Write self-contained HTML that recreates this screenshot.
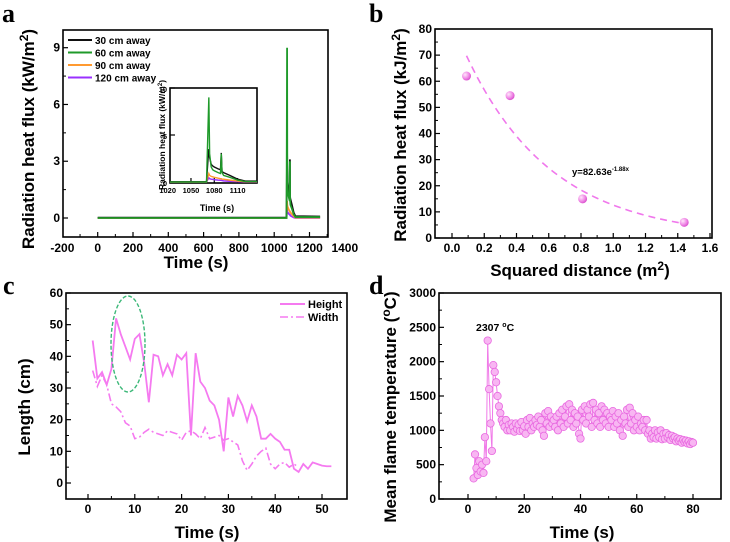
<!DOCTYPE html>
<html><head><meta charset="utf-8">
<style>
body{margin:0;background:#fff;}
svg{display:block;font-family:"Liberation Sans",Arial,sans-serif;font-weight:bold;}
.letter{font-family:"Liberation Serif",serif;font-size:26px;font-weight:bold;}
</style></head>
<body>
<svg id="fig" width="730" height="542" viewBox="0 0 730 542">
<defs>
<radialGradient id="ball" cx="0.35" cy="0.35" r="0.7">
<stop offset="0" stop-color="#ffe6fb"/><stop offset="0.6" stop-color="#f08ae6"/><stop offset="1" stop-color="#d84ccc"/>
</radialGradient>
<clipPath id="clipInset"><rect x="170" y="88" width="87" height="95"/></clipPath>
</defs>
</svg>
<script>
// ---- panel a data ----
const aTimes=[0,1070,1072,1073,1074,1076,1078,1080,1085,1088,1089,1090,1092,1100,1110,1120,1260];
const aBlack=[0.02,0.02,2.5,3.5,2.6,1.9,1.7,1.6,1.4,1.3,3.1,1.1,1.0,0.7,0.3,0.1,0.08];
const aGreen=[0,0,6,9,3,1.6,1.3,1.2,1.0,0.9,3.0,1.0,0.7,0.5,0.2,0.05,0.05];
const aOrange=[0,0,0.6,0.9,0.7,0.6,0.55,0.5,0.4,0.35,0.35,0.3,0.3,0.2,0.1,0.02,0.02];
const aPurple=[0,0,0.3,0.45,0.35,0.3,0.28,0.25,0.2,0.18,0.18,0.15,0.12,0.08,0.03,0,0];
const aXTicks=[-200,0,200,400,600,800,1000,1200,1400];
const aYTicks=[0,3,6,9];
const aLegend=["30 cm away","60 cm away","90 cm away","120 cm away"];
const insetXTicks=[1020,1050,1080,1110];
const insetYTicks=[0,5,10];
// ---- panel b data ----
const bX=[0.09,0.36,0.81,1.44];
const bY=[62,54.5,15,6];
const bFitA=82.63, bFitB=-1.88;
const bXTicks=[0.0,0.2,0.4,0.6,0.8,1.0,1.2,1.4,1.6];
const bYTicks=[0,10,20,30,40,50,60,70,80];
// ---- panel c data ----
const cHeightT=[1,2,3,4,5,6,7,8,9,10,11,12,13,14,15,16,17,18,19,20,21,22,23,24,25,26,27,28,29,30,31,32,33,34,35,36,37,38,39,40,41,42,43,44,45,46,47,48,49,50,51,52];
const cHeight=[45,33,35,31,36,52,47,43,39,45.5,47,38,25.5,40.5,40,34,37.5,34,40.5,39,41,15,41,32,30,26,24.5,20,10,27,21,27.5,24.5,19.5,24.5,21,14,14,15.5,14,13,10.5,10.5,4.5,3.5,6,4.5,6.5,6,5.5,5.3,5.3];
const cWidthT=[1,2,3,4,5,6,7,8,9,10,11,12,13,14,15,16,17,18,19,20,21,22,23,24,25,26,27,28,29,30,31,32,33,34,35,36,37,38,39,40,41,42,43,44,45];
const cWidth=[35.5,30.5,34,31,25,24,22.5,19,18,14,14.5,16,17,16,15.5,15,16.5,16,15.5,13.5,16,16.5,15.5,14,17.5,14,14.5,15,13.5,14,13,12,7,4,6,8.5,10,11,6,4.5,6,6.5,5,6,5];
const cXTicks=[0,10,20,30,40,50];
const cYTicks=[0,10,20,30,40,50,60];
// ---- panel d data ----
const dStart=2, dStep=0.5;
const dTemp=[300,650,450,350,550,400,500,380,900,550,2307,1600,1100,700,1950,1850,1700,1500,1350,1250,1150,1100,1050,1150,1000,1080,1000,1100,1050,980,1100,1020,1080,990,1120,1000,1060,950,1150,1050,1180,1000,1100,1050,1150,1080,1200,1050,1150,1000,920,1250,1100,1280,1050,1200,1100,1150,1050,1200,1000,1250,1100,1300,1050,1200,1350,1100,1380,1150,1300,1050,1250,1100,1200,950,880,1300,1150,1350,1100,1300,1200,1380,1050,1400,1150,1300,1100,1250,1050,1350,1150,1300,1100,1250,1050,1200,1150,1280,1050,1200,1100,1250,1000,1150,920,1200,1100,1300,1050,1330,1100,1250,1000,1150,1050,1200,1000,1100,1050,1150,1000,1150,950,1000,880,950,900,1000,880,970,900,1000,870,950,880,960,900,930,860,920,880,900,840,880,850,870,820,860,830,850,810,840,800,830,820];
const dXTicks=[0,20,40,60,80];
const dYTicks=[0,500,1000,1500,2000,2500,3000];

const NS="http://www.w3.org/2000/svg";
const svg=document.getElementById('fig');
function mk(tag,attrs,parent,text){const e=document.createElementNS(NS,tag);for(const k in attrs)e.setAttribute(k,attrs[k]);if(text!==undefined)e.textContent=text;(parent||svg).appendChild(e);return e;}
function lin(d0,d1,r0,r1){return v=>r0+(v-d0)/(d1-d0)*(r1-r0);}
function pathOf(xs,ys,fx,fy){return xs.map((x,i)=>(i?'L':'M')+fx(x).toFixed(2)+' '+fy(ys[i]).toFixed(2)).join(' ');}

function frame(name,x0,y0,x1,y1,fx,fy,xt,yt,xlabY,fmtX,fmtY,minorX,minorY,fs){
  const g=mk('g',{});
  
  
  const box=mk('rect',{x:x0,y:y0,width:x1-x0,height:y1-y0,fill:'none',stroke:'#000','stroke-width':1.6},g);
  
  
  xt.forEach((v,i)=>{const x=fx(v);
    if(x>=x0-0.5&&x<=x1+0.5)mk('line',{x1:x,x2:x,y1:y1,y2:y1-5,stroke:'#000','stroke-width':1.2},g);
    const t=mk('text',{x:x,y:xlabY,'text-anchor':'middle','font-size':fs||12},g,fmtX(v));
    
    
    if(i<xt.length-1&&minorX){const xm=fx((v+xt[i+1])/2);if(xm>x0&&xm<x1)mk('line',{x1:xm,x2:xm,y1:y1,y2:y1-3,stroke:'#000','stroke-width':1},g);}
  });
  yt.forEach((v,i)=>{const y=fy(v);
    mk('line',{x1:x0,x2:x0+5,y1:y,y2:y,stroke:'#000','stroke-width':1.2},g);
    const t=mk('text',{x:x0-3,y:y+4,'text-anchor':'end','font-size':fs||12},g,fmtY(v));
    
    
    if(i<yt.length-1&&minorY){const ym=fy((v+yt[i+1])/2);mk('line',{x1:x0,x2:x0+3,y1:ym,y2:ym,stroke:'#000','stroke-width':1},g);}
  });
  return g;
}
function ytitle(name,x,y,html){const t=mk('text',{x:x,y:y,'text-anchor':'middle',transform:`rotate(-90 ${x} ${y})`,'font-size':17});t.innerHTML=html;return t;}
function xtitle(name,x,y,html){const t=mk('text',{x:x,y:y,'text-anchor':'middle','font-size':17});t.innerHTML=html;return t;}
function letter(name,x,y,s){const t=mk('text',{x:x,y:y,class:'letter'},svg,s);}

// ================= Panel a =================
letter('panel-a-label',2,22,'a');
const ax=v=>97.7+v*0.1765, ay=lin(0,9,218,47.7);
frame('panel-a',63,30,328,237,ax,ay,aXTicks,aYTicks,252,v=>v,v=>v,true,true);
ytitle('panel-a-y-axis-title',34,139,'Radiation heat flux (kW/m<tspan dy="-6" font-size="12">2</tspan><tspan dy="6">)</tspan>');
xtitle('panel-a-x-axis-title',196,268,'Time (s)');
const aSeries=[[aBlack,'#111'],[aGreen,'#1f9a2a'],[aOrange,'#ff9a30'],[aPurple,'#9a30ff']];
const aNames=['series-30cm','series-60cm','series-90cm','series-120cm'];
[3,2,0,1].forEach(k=>{const s=aSeries[k];
  const p=mk('path',{d:pathOf(aTimes,s[0],ax,ay),fill:'none',stroke:s[1],'stroke-width':1.8});
  
  
});
aLegend.forEach((lab,i)=>{const y=40+i*12.5;
  const g=mk('g',{});
  
  
  mk('line',{x1:68,x2:92,y1:y,y2:y,stroke:aSeries[i][1],'stroke-width':2},g);
  mk('text',{x:95,y:y+4,'font-size':10},g,lab);
});
// inset
const ix=lin(1023,1135,170,257), iy=lin(0,10,182,88);
frame('panel-a-inset',170,88,257,183,ix,iy,insetXTicks,insetYTicks,193,v=>v,v=>v,false,false,7.5);
const ig=mk('g',{'clip-path':'url(#clipInset)'});


[3,2,0,1].forEach(k=>{const s=aSeries[k];
  const p=mk('path',{d:pathOf(aTimes,s[0],ix,iy),fill:'none',stroke:s[1],'stroke-width':1.4},ig);
  
  
});
(function(){const t=mk('text',{x:0,y:0,'text-anchor':'middle','font-size':8.5,transform:'translate(165 135) rotate(-90)'});t.innerHTML='Radiation heat flux (kW/m<tspan dy="-3" font-size="6">2</tspan><tspan dy="3">)</tspan>';
const u=mk('text',{x:217,y:211,'text-anchor':'middle','font-size':9},svg,'Time (s)');})();

// ================= Panel b =================
letter('panel-b-label',369,22,'b');
const bx=lin(0,1.6,452,710), by=lin(0,80,238,29);
frame('panel-b',435,29,712,238,bx,by,bXTicks,bYTicks,252,v=>v.toFixed(1),v=>v,true,true);
ytitle('panel-b-y-axis-title',406,135,'Radiation heat flux (kJ/m<tspan dy="-6" font-size="12">2</tspan><tspan dy="6">)</tspan>');
xtitle('panel-b-x-axis-title',580,276,'Squared distance (m<tspan dy="-6" font-size="12">2</tspan><tspan dy="6">)</tspan>');
(function(){const xs=[],ys=[];for(let i=0;i<=60;i++){const x=bX[0]+(bX[bX.length-1]-bX[0])*i/60;xs.push(x);ys.push(bFitA*Math.exp(bFitB*x));}
const p=mk('path',{d:pathOf(xs,ys,bx,by),fill:'none',stroke:'#f078ec','stroke-width':1.6,'stroke-dasharray':'7 5'});

})();
bX.forEach((x,i)=>{const c=mk('circle',{cx:bx(x),cy:by(bY[i]),r:4.5,fill:'url(#ball)'});
  
  });
(function(){const t=mk('text',{x:572,y:175,'font-size':9.5});t.innerHTML='y=82.63e<tspan dy="-4" font-size="6">-1.88x</tspan>';})();

// ================= Panel c =================
letter('panel-c-label',3,294,'c');
const cx=lin(0,50,88,322), cy=lin(0,60,483,293);
frame('panel-c',66,293,347,499,cx,cy,cXTicks,cYTicks,513,v=>v,v=>v,true,true);
ytitle('panel-c-y-axis-title',30,407,'Length (cm)');
xtitle('panel-c-x-axis-title',207,538,'Time (s)');
(function(){
const h=mk('path',{d:pathOf(cHeightT,cHeight,cx,cy),fill:'none',stroke:'#f57af0','stroke-width':1.8});


const w=mk('path',{d:pathOf(cWidthT,cWidth,cx,cy),fill:'none',stroke:'#f57af0','stroke-width':1.6,'stroke-dasharray':'8 3 2 3'});


const e=mk('ellipse',{cx:128,cy:344,rx:17,ry:48,fill:'none',stroke:'#3cb878','stroke-width':1.4,'stroke-dasharray':'4 2'});


const g1=mk('g',{});
mk('line',{x1:280,x2:305,y1:304,y2:304,stroke:'#f57af0','stroke-width':2},g1);
mk('text',{x:308,y:308,'font-size':11},g1,'Height');
const g2=mk('g',{});
mk('line',{x1:280,x2:305,y1:317,y2:317,stroke:'#f57af0','stroke-width':1.6,'stroke-dasharray':'8 3 2 3'},g2);
mk('text',{x:308,y:321,'font-size':11},g2,'Width');
})();

// ================= Panel d =================
letter('panel-d-label',369,294,'d');
const dx=lin(0,80,468,693), dy=lin(0,3000,499,293);
frame('panel-d',439,293,721,499,dx,dy,dXTicks,dYTicks,513,v=>v,v=>v,true,true);
ytitle('panel-d-y-axis-title',396,407,'Mean flame temperature (<tspan dy="-6" font-size="12">o</tspan><tspan dy="6">C)</tspan>');
xtitle('panel-d-x-axis-title',582,538,'Time (s)');
(function(){
const ts=dTemp.map((_,i)=>dStart+i*dStep);
const l=mk('path',{d:pathOf(ts,dTemp,dx,dy),fill:'none',stroke:'#f07ae8','stroke-width':1});


const g=mk('g',{});


ts.forEach((t,i)=>{const c=mk('circle',{cx:dx(t),cy:dy(dTemp[i]),r:3.7,fill:'#f8b6f2',stroke:'#e868e0','stroke-width':0.8},g);
  
  });
const a=mk('text',{x:476,y:331,'font-size':10.5});a.innerHTML='2307 <tspan dy="-4" font-size="7">o</tspan><tspan dy="4">C</tspan>';


})();
</script>
</body></html>
